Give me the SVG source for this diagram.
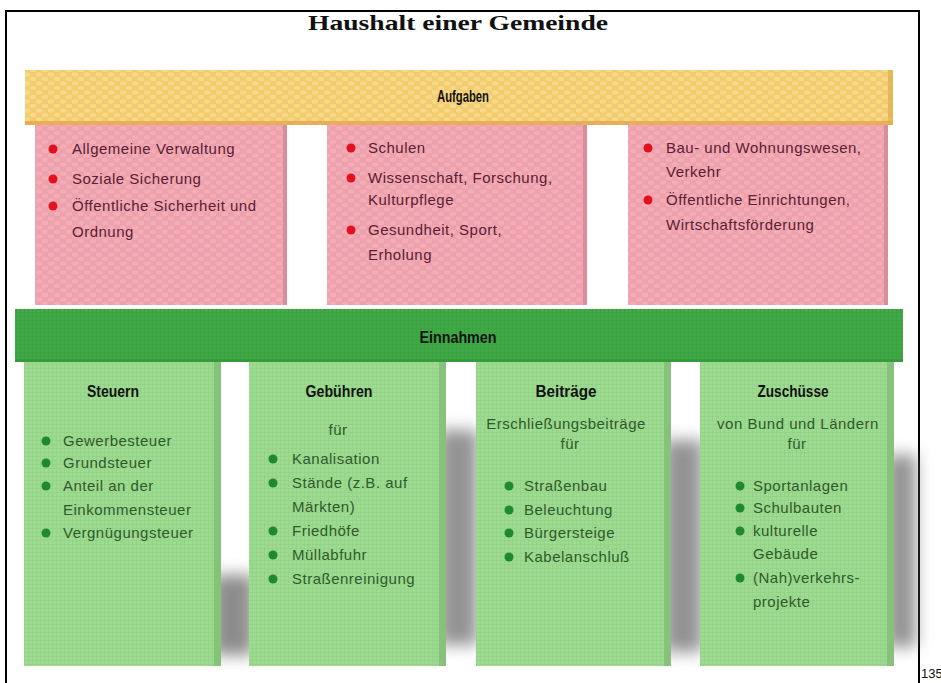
<svg xmlns="http://www.w3.org/2000/svg" width="941" height="683" viewBox="0 0 941 683">
<style>
  .title{font-family:"Liberation Serif","Times New Roman",serif;font-weight:bold;font-size:21px;fill:#111}
  .hd{font-family:"Liberation Sans",Arial,sans-serif;font-weight:bold;font-size:17px;fill:#111;text-anchor:middle}
  .pt{font-family:"Liberation Sans",Arial,sans-serif;font-size:15px;fill:#5A2035;letter-spacing:0.5px}
  .gt{font-family:"Liberation Sans",Arial,sans-serif;font-size:15px;fill:#2F5A2B;letter-spacing:0.5px}
  .mid{text-anchor:middle}
  .rb{fill:#E3101F}
  .gb{fill:#1F8A2B}
  .shadow{fill:#707070;filter:url(#blur)}
</style>
<defs>
  <pattern id="yl" width="12" height="9" patternUnits="userSpaceOnUse">
    <rect width="12" height="9" fill="#F3CD6C"/>
    <ellipse cx="3" cy="2.5" rx="3.3" ry="2.2" fill="#F7D98E"/>
    <ellipse cx="9" cy="7" rx="3.3" ry="2.2" fill="#F7D98E"/>
  </pattern>
  <pattern id="pk" width="12" height="9" patternUnits="userSpaceOnUse">
    <rect width="12" height="9" fill="#EFA0AF"/>
    <ellipse cx="3" cy="2.5" rx="3.3" ry="2.2" fill="#F2AEB2"/>
    <ellipse cx="9" cy="7" rx="3.3" ry="2.2" fill="#F2AEB2"/>
  </pattern>
  <pattern id="lg" width="4" height="4" patternUnits="userSpaceOnUse">
    <rect width="4" height="4" fill="#9DDB90"/>
    <path d="M0 0.5H4M0.5 0V4" stroke="#95D388" stroke-width="1"/>
  </pattern>
  <pattern id="dg" width="4" height="4" patternUnits="userSpaceOnUse">
    <rect width="4" height="4" fill="#41AA47"/>
    <path d="M0 0.5H4M0.5 0V4" stroke="#3BA242" stroke-width="1"/>
  </pattern>
  <filter id="blur" x="-100%" y="-30%" width="300%" height="160%">
    <feGaussianBlur stdDeviation="8"/>
  </filter>
</defs>

<rect x="0" y="0" width="941" height="683" fill="#fff"/>
<rect x="6" y="11" width="913" height="700" fill="none" stroke="#000" stroke-width="2"/>
<text x="921" y="678" font-family="Liberation Sans, Arial, sans-serif" font-size="13" fill="#111">135</text>

<text class="title" x="308" y="30" textLength="300" lengthAdjust="spacingAndGlyphs">Haushalt einer Gemeinde</text>

<!-- shadows -->
<g id="shadows">
  <rect class="shadow" x="212" y="575" width="42" height="80" opacity="0.8"/>
  <rect class="shadow" x="438" y="430" width="40" height="215" opacity="0.75"/>
  <rect class="shadow" x="663" y="440" width="40" height="212" opacity="0.75"/>
  <rect class="shadow" x="886" y="455" width="30" height="192" opacity="0.75"/>
</g>

<g id="aufgaben">
  <rect x="25" y="70" width="868" height="55" fill="url(#yl)"/>
  <rect x="25" y="121" width="868" height="4" fill="#E4A454" opacity="0.8"/>
  <rect x="888" y="70" width="5" height="55" fill="#E2B050" opacity="0.8"/>
  <text class="hd" x="463" y="102" textLength="52" lengthAdjust="spacingAndGlyphs">Aufgaben</text>
</g>

<g id="aufgabe1">
  <rect x="35" y="125" width="252" height="180" fill="url(#pk)"/>
  <rect x="283" y="125" width="4" height="180" fill="#D98C9A"/>
  <circle class="rb" cx="53" cy="149" r="4.5"/>
  <circle class="rb" cx="53" cy="179" r="4.5"/>
  <circle class="rb" cx="53" cy="206" r="4.5"/>
  <text class="pt" x="72" y="154">Allgemeine Verwaltung</text>
  <text class="pt" x="72" y="184">Soziale Sicherung</text>
  <text class="pt" x="72" y="211">Öffentliche Sicherheit und</text>
  <text class="pt" x="72" y="237">Ordnung</text>
</g>

<g id="aufgabe2">
  <rect x="327" y="125" width="260" height="180" fill="url(#pk)"/>
  <rect x="583" y="125" width="4" height="180" fill="#D98C9A"/>
  <circle class="rb" cx="351" cy="148" r="4.5"/>
  <circle class="rb" cx="351" cy="178" r="4.5"/>
  <circle class="rb" cx="351" cy="230" r="4.5"/>
  <text class="pt" x="368" y="153">Schulen</text>
  <text class="pt" x="368" y="183">Wissenschaft, Forschung,</text>
  <text class="pt" x="368" y="205">Kulturpflege</text>
  <text class="pt" x="368" y="235">Gesundheit, Sport,</text>
  <text class="pt" x="368" y="260">Erholung</text>
</g>

<g id="aufgabe3">
  <rect x="628" y="125" width="260" height="180" fill="url(#pk)"/>
  <rect x="884" y="125" width="4" height="180" fill="#D98C9A"/>
  <circle class="rb" cx="648" cy="148" r="4.5"/>
  <circle class="rb" cx="648" cy="200" r="4.5"/>
  <text class="pt" x="666" y="153">Bau- und Wohnungswesen,</text>
  <text class="pt" x="666" y="177">Verkehr</text>
  <text class="pt" x="666" y="205">Öffentliche Einrichtungen,</text>
  <text class="pt" x="666" y="230">Wirtschaftsförderung</text>
</g>

<g id="einnahmen">
  <rect x="15" y="309" width="888" height="53" fill="url(#dg)"/>
  <rect x="15" y="359" width="888" height="3" fill="#359A3C"/>
  <text class="hd" x="458" y="343" textLength="77" lengthAdjust="spacingAndGlyphs">Einnahmen</text>
</g>

<g id="steuern">
  <rect x="24" y="362" width="197" height="304" fill="url(#lg)"/>
  <rect x="214" y="362" width="7" height="304" fill="#86C27A"/>
  <text class="hd" x="113" y="397" textLength="52" lengthAdjust="spacingAndGlyphs">Steuern</text>
  <circle class="gb" cx="46" cy="441" r="4.5"/>
  <circle class="gb" cx="46" cy="463" r="4.5"/>
  <circle class="gb" cx="46" cy="486" r="4.5"/>
  <circle class="gb" cx="46" cy="533" r="4.5"/>
  <text class="gt" x="63" y="446">Gewerbesteuer</text>
  <text class="gt" x="63" y="468">Grundsteuer</text>
  <text class="gt" x="63" y="491">Anteil an der</text>
  <text class="gt" x="63" y="515">Einkommensteuer</text>
  <text class="gt" x="63" y="538">Vergnügungsteuer</text>
</g>

<g id="gebuehren">
  <rect x="249" y="362" width="197" height="304" fill="url(#lg)"/>
  <rect x="439" y="362" width="7" height="304" fill="#86C27A"/>
  <text class="hd" x="339" y="397" textLength="67" lengthAdjust="spacingAndGlyphs">Gebühren</text>
  <text class="gt mid" x="338" y="435">für</text>
  <circle class="gb" cx="273" cy="459" r="4.5"/>
  <circle class="gb" cx="273" cy="483" r="4.5"/>
  <circle class="gb" cx="273" cy="531" r="4.5"/>
  <circle class="gb" cx="273" cy="555" r="4.5"/>
  <circle class="gb" cx="273" cy="579" r="4.5"/>
  <text class="gt" x="292" y="464">Kanalisation</text>
  <text class="gt" x="292" y="488">Stände (z.B. auf</text>
  <text class="gt" x="292" y="512">Märkten)</text>
  <text class="gt" x="292" y="536">Friedhöfe</text>
  <text class="gt" x="292" y="560">Müllabfuhr</text>
  <text class="gt" x="292" y="584">Straßenreinigung</text>
</g>

<g id="beitraege">
  <rect x="476" y="362" width="195" height="304" fill="url(#lg)"/>
  <rect x="664" y="362" width="7" height="304" fill="#86C27A"/>
  <text class="hd" x="566" y="397" textLength="61" lengthAdjust="spacingAndGlyphs">Beiträge</text>
  <text class="gt mid" x="566" y="429">Erschließungsbeiträge</text>
  <text class="gt mid" x="570" y="449">für</text>
  <circle class="gb" cx="509" cy="486" r="4.5"/>
  <circle class="gb" cx="509" cy="510" r="4.5"/>
  <circle class="gb" cx="509" cy="533" r="4.5"/>
  <circle class="gb" cx="509" cy="557" r="4.5"/>
  <text class="gt" x="524" y="491">Straßenbau</text>
  <text class="gt" x="524" y="515">Beleuchtung</text>
  <text class="gt" x="524" y="538">Bürgersteige</text>
  <text class="gt" x="524" y="562">Kabelanschluß</text>
</g>

<g id="zuschuesse">
  <rect x="700" y="362" width="194" height="304" fill="url(#lg)"/>
  <rect x="887" y="362" width="7" height="304" fill="#86C27A"/>
  <text class="hd" x="793" y="397" textLength="71" lengthAdjust="spacingAndGlyphs">Zuschüsse</text>
  <text class="gt mid" x="798" y="429">von Bund und Ländern</text>
  <text class="gt mid" x="797" y="449">für</text>
  <circle class="gb" cx="740" cy="486" r="4.5"/>
  <circle class="gb" cx="740" cy="508" r="4.5"/>
  <circle class="gb" cx="740" cy="531" r="4.5"/>
  <circle class="gb" cx="740" cy="578" r="4.5"/>
  <text class="gt" x="753" y="491">Sportanlagen</text>
  <text class="gt" x="753" y="513">Schulbauten</text>
  <text class="gt" x="753" y="536">kulturelle</text>
  <text class="gt" x="753" y="559">Gebäude</text>
  <text class="gt" x="753" y="583">(Nah)verkehrs-</text>
  <text class="gt" x="753" y="607">projekte</text>
</g>

<g id="connectors"/>
</svg>
